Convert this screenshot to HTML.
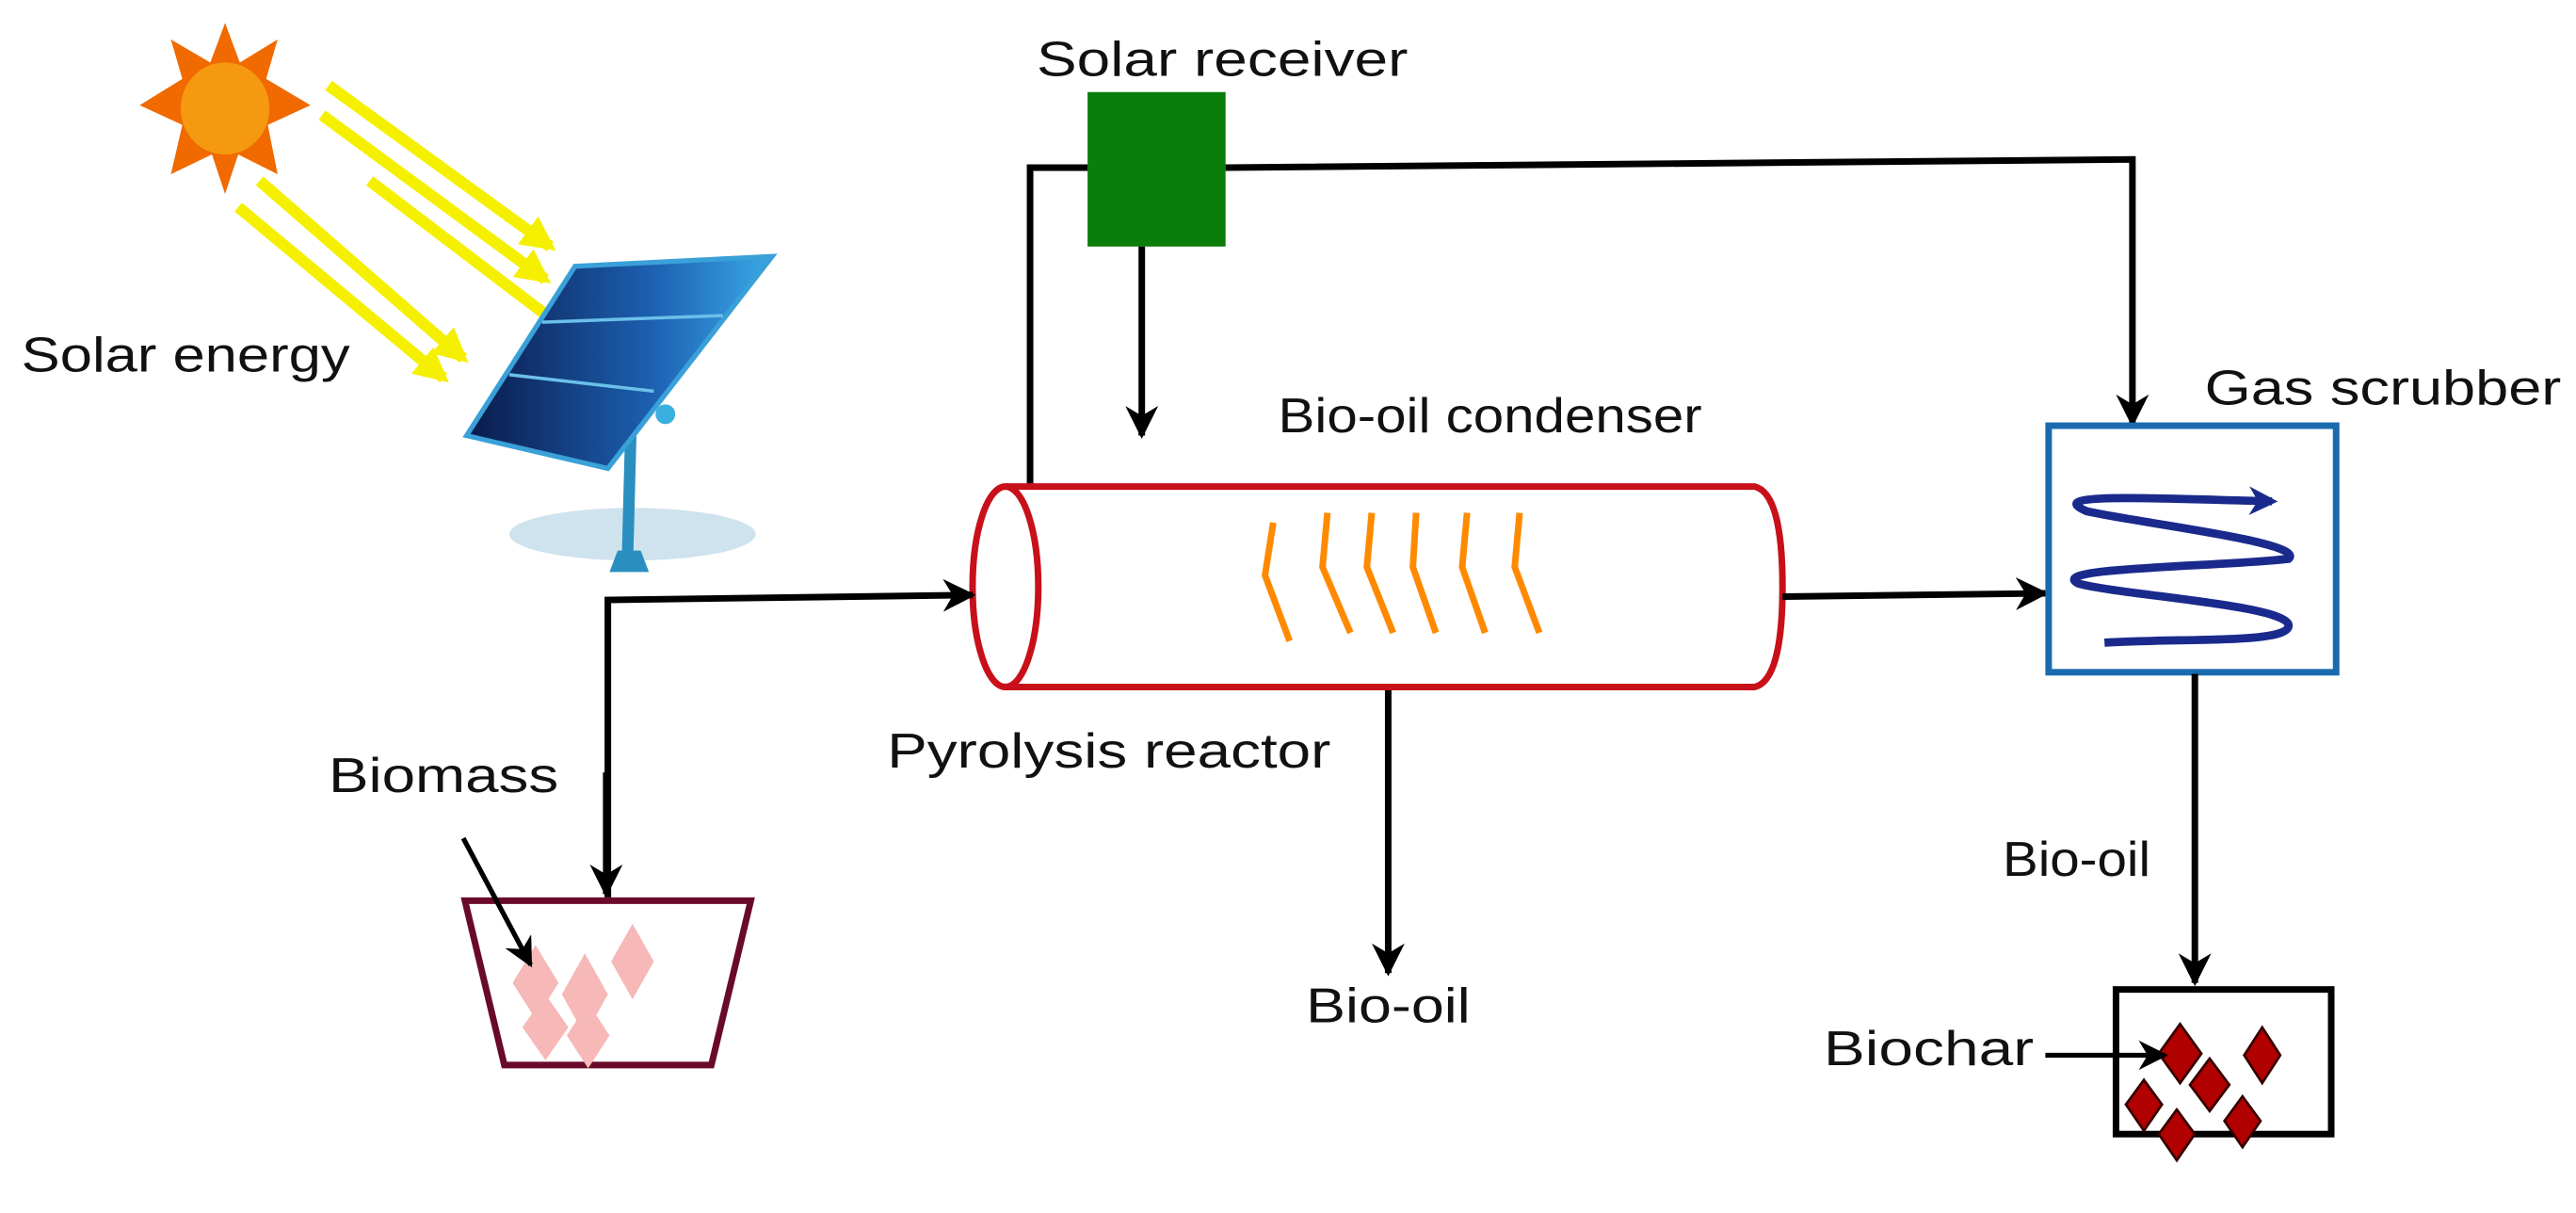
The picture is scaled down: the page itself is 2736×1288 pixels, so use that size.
<!DOCTYPE html>
<html><head><meta charset="utf-8"><style>
html,body{margin:0;padding:0;background:#fff;}
svg{display:block;}
text{font-family:"Liberation Sans",Arial,sans-serif;fill:#111;}
</style></head><body>
<svg width="2736" height="1288" viewBox="0 0 1568 738" preserveAspectRatio="none" xmlns="http://www.w3.org/2000/svg">
<defs>
<marker id="ah" viewBox="0 0 10 10" refX="9" refY="5" markerWidth="5" markerHeight="5" orient="auto" markerUnits="strokeWidth"><path d="M0,0 L10,5 L0,10 L3,5 z" fill="#000"/></marker>
<marker id="ahs" viewBox="0 0 10 10" refX="9" refY="5" markerWidth="6" markerHeight="6" orient="auto" markerUnits="strokeWidth"><path d="M0,0 L10,5 L0,10 L3,5 z" fill="#000"/></marker>
<marker id="ay" viewBox="0 0 10 10" refX="8" refY="5" markerWidth="3" markerHeight="3" orient="auto" markerUnits="strokeWidth"><path d="M0,0 L10,5 L0,10 z" fill="#f5f000"/></marker>
<marker id="ab" viewBox="0 0 10 10" refX="8" refY="5" markerWidth="3.5" markerHeight="3.5" orient="auto" markerUnits="strokeWidth"><path d="M0,0 L10,5 L0,10 L3,5 z" fill="#1a2a8c"/></marker>
<linearGradient id="pg" x1="0" y1="0" x2="1" y2="0"><stop offset="0" stop-color="#0a1a4a"/><stop offset="0.6" stop-color="#1c5fb0"/><stop offset="1" stop-color="#3aa8e8"/></linearGradient>
</defs>

<!-- Sun -->
<g transform="translate(137,66)">
<polygon fill="#f06a00" points="0,-52 9,-28 32,-42 25,-18 52,-2 26,10 32,40 8,28 0,52 -8,28 -33,40 -26,10 -52,-2 -26,-18 -33,-42 -9,-28"/>
<ellipse cx="0" cy="0" rx="27" ry="28" fill="#f59a10"/>
</g>
<!-- Yellow rays -->
<g stroke="#f5f000" stroke-width="7" fill="none" marker-end="url(#ay)">
<line x1="200" y1="52" x2="335" y2="150"/>
<line x1="196" y1="70" x2="332" y2="170"/>
<line x1="158" y1="110" x2="282" y2="218"/>
<line x1="145" y1="126" x2="270" y2="230"/>
<line x1="225" y1="110" x2="350" y2="205"/>
</g>
<!-- Solar panel -->
<ellipse cx="385" cy="325" rx="75" ry="16" fill="#cfe3ee"/>
<line x1="384" y1="262" x2="382" y2="338" stroke="#2a8fc0" stroke-width="7"/>
<polygon points="376,335 390,335 395,348 371,348" fill="#2a8fc0"/>
<circle cx="405" cy="252" r="6" fill="#3ab0e0"/>
<polygon points="350,162 470,156 370,285 284,265" fill="url(#pg)" stroke="#3aa0d8" stroke-width="3"/>
<line x1="330" y1="196" x2="440" y2="192" stroke="#6bc0ea" stroke-width="2"/>
<line x1="310" y1="228" x2="398" y2="238" stroke="#6bc0ea" stroke-width="2"/>

<text x="13" y="226" font-size="30" textLength="200" lengthAdjust="spacingAndGlyphs">Solar energy</text>

<!-- Solar receiver -->
<text x="631" y="46" font-size="30" textLength="226" lengthAdjust="spacingAndGlyphs">Solar receiver</text>
<rect x="662" y="56" width="84" height="94" fill="#0a7d0a"/>
<polyline points="627,296 627,102 662,102" fill="none" stroke="#000" stroke-width="4"/>
<polyline points="746,102 1298,97 1298,258" fill="none" stroke="#000" stroke-width="4" marker-end="url(#ah)"/>
<line x1="695" y1="150" x2="695" y2="265" stroke="#000" stroke-width="4" marker-end="url(#ah)"/>

<text x="778" y="263" font-size="30" textLength="258" lengthAdjust="spacingAndGlyphs">Bio-oil condenser</text>

<!-- Reactor cylinder -->
<path d="M612,296 L1068,296 Q1085,300 1085,357 Q1085,414 1068,418 L612,418" fill="#fff" stroke="#c8101a" stroke-width="4"/>
<ellipse cx="612" cy="357" rx="20" ry="61" fill="#fff" stroke="#c8101a" stroke-width="4"/>
<g stroke="#ff8a00" stroke-width="4" fill="none">
<polyline points="775,318 770,350 785,390"/>
<polyline points="808,312 805,345 822,385"/>
<polyline points="835,312 832,345 848,385"/>
<polyline points="862,312 860,345 874,385"/>
<polyline points="893,312 890,345 904,385"/>
<polyline points="925,312 922,345 937,385"/>
</g>
<text x="540" y="467" font-size="30" textLength="270" lengthAdjust="spacingAndGlyphs">Pyrolysis reactor</text>
<line x1="845" y1="420" x2="845" y2="592" stroke="#000" stroke-width="4" marker-end="url(#ah)"/>
<text x="795" y="622" font-size="30" textLength="100" lengthAdjust="spacingAndGlyphs">Bio-oil</text>

<!-- reactor to scrubber -->
<line x1="1085" y1="363" x2="1245" y2="361" stroke="#000" stroke-width="4" marker-end="url(#ah)"/>

<!-- Gas scrubber -->
<text x="1342" y="246" font-size="30" textLength="217" lengthAdjust="spacingAndGlyphs">Gas scrubber</text>
<rect x="1247" y="259" width="175" height="150" fill="#fff" stroke="#1a6ab0" stroke-width="4"/>
<path d="M1281,391 C1330,388 1395,392 1393,380 C1390,368 1290,362 1265,355 C1245,345 1350,345 1393,340 C1405,330 1300,318 1270,311 C1245,300 1300,303 1383,305" fill="none" stroke="#1a2a8c" stroke-width="5" marker-end="url(#ab)"/>

<!-- scrubber to biochar -->
<line x1="1336" y1="410" x2="1336" y2="598" stroke="#000" stroke-width="4" marker-end="url(#ah)"/>
<text x="1219" y="533" font-size="30" textLength="90" lengthAdjust="spacingAndGlyphs">Bio-oil</text>
<rect x="1288" y="602" width="131" height="88" fill="#fff" stroke="#000" stroke-width="4"/>
<g fill="#b00000" stroke="#300" stroke-width="1.5">
<polygon points="1327,623 1340,641 1327,659 1314,641"/>
<polygon points="1377,625 1388,642 1377,659 1366,642"/>
<polygon points="1345,644 1357,660 1345,676 1333,660"/>
<polygon points="1305,657 1316,672 1305,688 1294,672"/>
<polygon points="1365,667 1376,682 1365,698 1354,682"/>
<polygon points="1325,675 1336,690 1325,706 1314,690"/>
</g>
<text x="1110" y="648" font-size="30" textLength="128" lengthAdjust="spacingAndGlyphs">Biochar</text>
<line x1="1245" y1="642" x2="1318" y2="642" stroke="#000" stroke-width="3" marker-end="url(#ahs)"/>

<!-- Biomass feed -->
<polyline points="370,546 370,365 592,362" fill="none" stroke="#000" stroke-width="4" marker-end="url(#ah)"/>
<line x1="369" y1="470" x2="369" y2="544" stroke="#000" stroke-width="4" marker-end="url(#ah)"/>
<text x="200" y="482" font-size="30" textLength="140" lengthAdjust="spacingAndGlyphs">Biomass</text>
<polygon points="283,548 457,548 433,648 307,648" fill="#fff" stroke="#6a0a2a" stroke-width="4"/>
<g fill="#f7b8b8">
<polygon points="326,575 340,598 326,620 312,598"/>
<polygon points="385,562 398,585 385,608 372,585"/>
<polygon points="356,580 370,605 356,630 342,605"/>
<polygon points="332,605 346,625 332,645 318,625"/>
<polygon points="358,610 371,630 358,650 345,630"/>
</g>
<line x1="282" y1="510" x2="323" y2="587" stroke="#000" stroke-width="3" marker-end="url(#ahs)"/>
</svg>
</body></html>
